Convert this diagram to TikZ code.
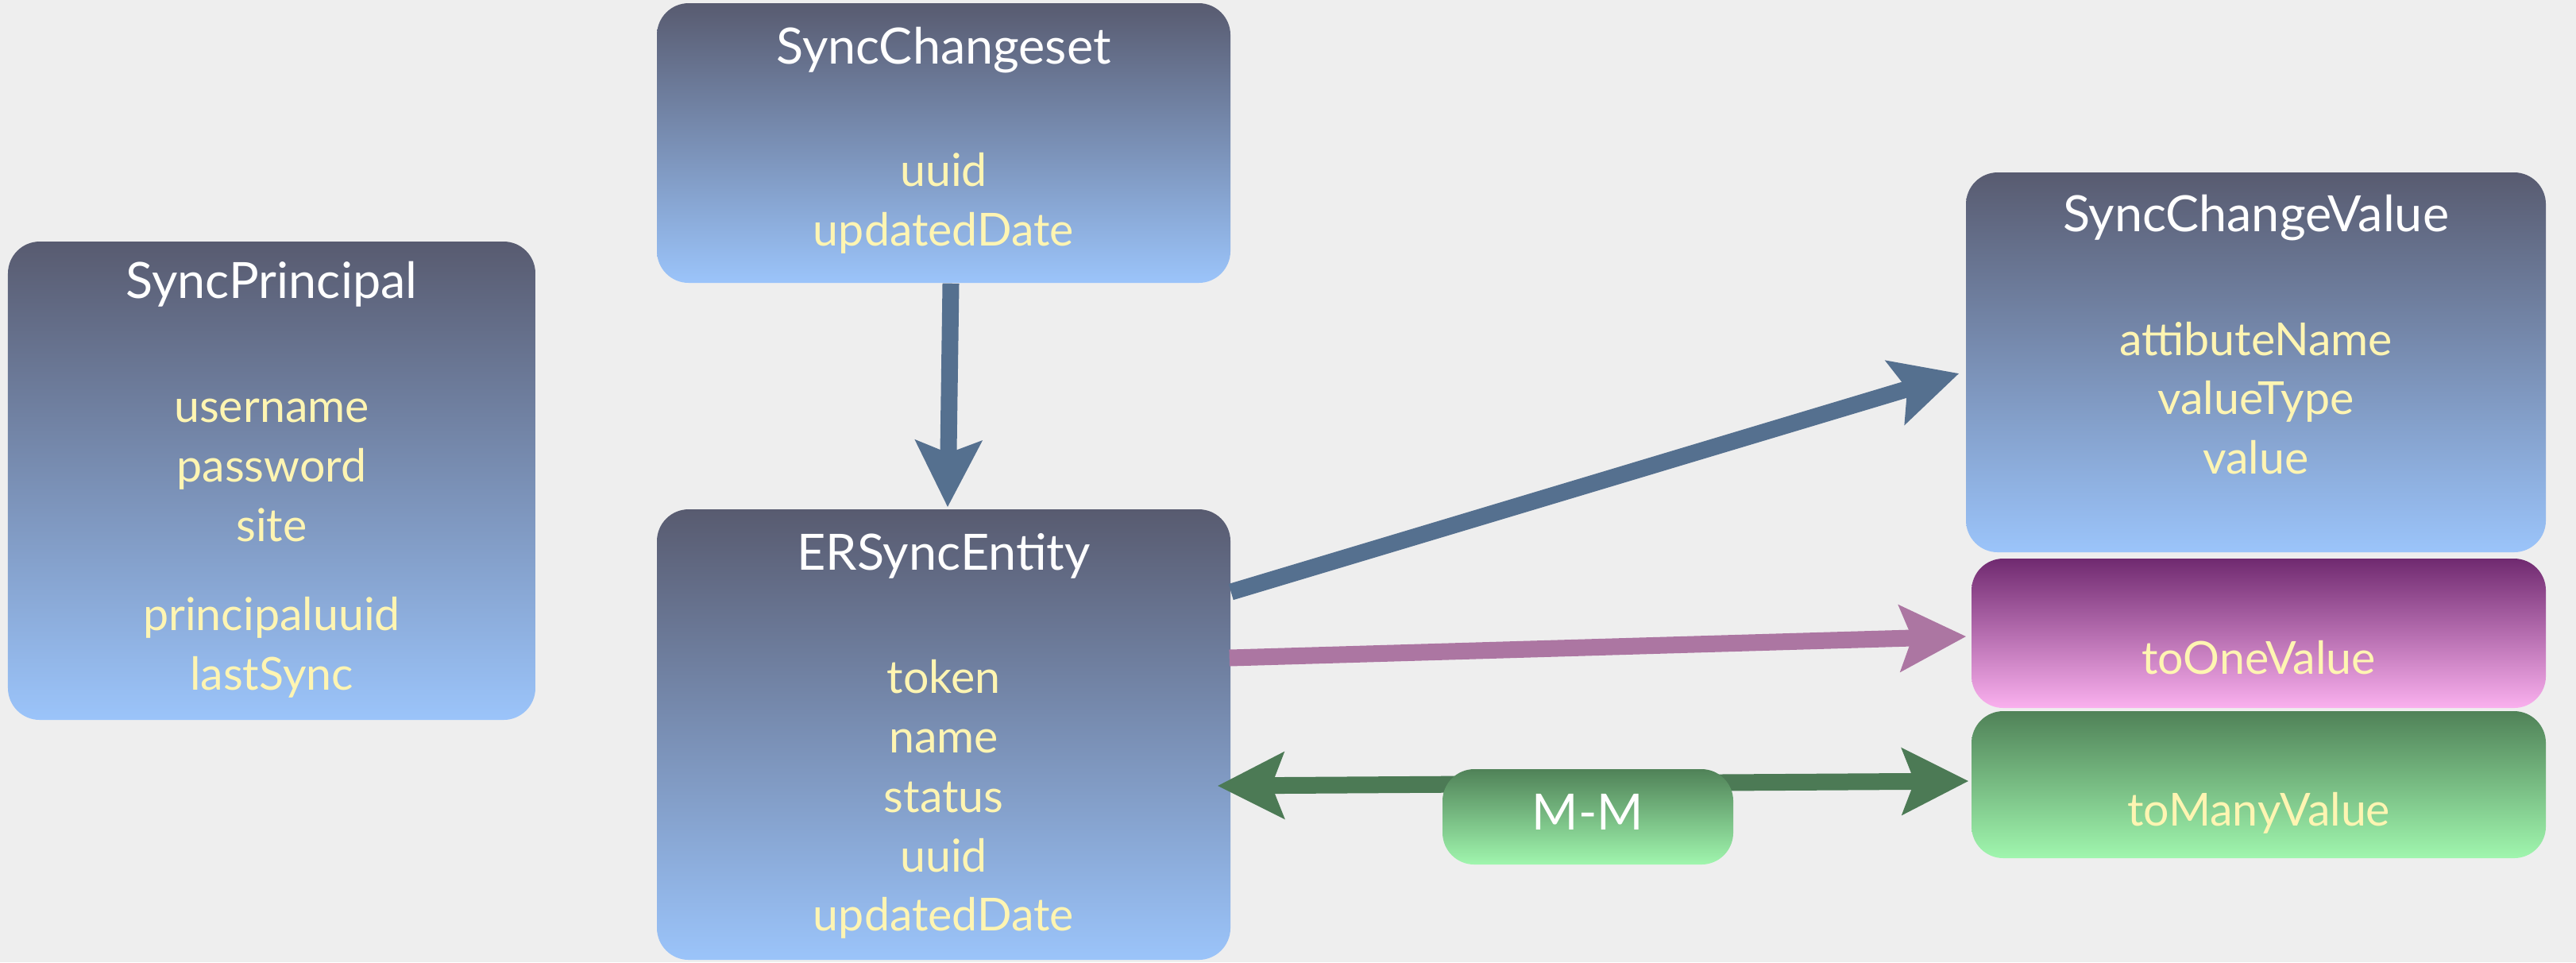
\documentclass[tikz,border=0pt]{standalone}
\usepackage{fontspec}
\setmainfont{Lato}
\usetikzlibrary{arrows.meta}

\definecolor{paper}{RGB}{238,238,238}
\definecolor{entitytop}{RGB}{88,91,112}
\definecolor{entitybottom}{RGB}{155,196,250}
\definecolor{onetop}{RGB}{112,42,112}
\definecolor{onebottom}{RGB}{250,176,238}
\definecolor{manytop}{RGB}{80,130,88}
\definecolor{manybottom}{RGB}{160,246,174}
\definecolor{attrcolor}{RGB}{255,245,178}
\definecolor{bluelink}{RGB}{85,112,143}
\definecolor{pinklink}{RGB}{172,118,162}
\definecolor{greenlink}{RGB}{76,122,85}

\newcommand\headfont{\fontsize{17.9}{21.3}\selectfont}
\newcommand\attrfont{\fontsize{16.3}{21.3}\selectfont}

\begin{document}
\begin{tikzpicture}[x = 1cm, y = 1cm, > = {Stealth[length = 0.83cm, width = 0.82cm, inset = 0.15cm]},
    entity/.style = {rectangle, rounded corners = 0.4cm, inner sep = 0pt, top color = entitytop, bottom color = entitybottom},
    toone/.style = {entity, top color = onetop, bottom color = onebottom},
    tomany/.style = {entity, top color = manytop, bottom color = manybottom},
    headtext/.style = {text = white, font = \headfont, inner sep = 0pt},
    attrtext/.style = {text = attrcolor, font = \attrfont, align = center, inner sep = 0pt},
    link/.style = {line width = 0.21cm, ->}]
    \fill[paper] (0, 0) rectangle (32.43, -12.11);
    \useasboundingbox (0, 0) rectangle (32.43, -12.11);

    % entities
    \node[entity, minimum width = 6.64cm, minimum height = 6.02cm] (princ) at (3.42, -6.05) {};
    \node[headtext] (princname) at ([yshift = -0.54cm]princ.north) {SyncPrincipal};
    \node[attrtext] (princattr) at (3.42, -6.90) {username\\password\\site\\[0.37cm]principaluuid\\lastSync};

    \node[entity, minimum width = 7.22cm, minimum height = 3.52cm] (chg) at (11.88, -1.80) {};
    \node[headtext] (chgname) at ([yshift = -0.60cm]chg.north) {SyncChangeset};
    \node[attrtext] (chgattr) at (11.88, -2.56) {uuid\\updatedDate};

    \node[entity, minimum width = 7.22cm, minimum height = 5.67cm] (ent) at (11.88, -9.245) {};
    \node[headtext] (entname) at ([yshift = -0.60cm]ent.north) {ERSyncEntity};
    \node[attrtext] (entattr) at (11.88, -10.06) {token\\name\\status\\uuid\\updatedDate};

    \node[entity, minimum width = 7.30cm, minimum height = 4.78cm] (val) at (28.40, -4.56) {};
    \node[headtext] (valname) at ([yshift = -0.58cm]val.north) {SyncChangeValue};
    \node[attrtext] (valattr) at (28.40, -5.01) {attibuteName\\valueType\\value};

    \node[toone, minimum width = 7.23cm, minimum height = 1.88cm] (one) at (28.435, -7.97) {};
    \node[attrtext] (onename) at ([yshift = -0.31cm]one.center) {toOneValue};

    \node[tomany, minimum width = 7.23cm, minimum height = 1.85cm] (many) at (28.435, -9.875) {};
    \node[attrtext] (manyname) at ([yshift = -0.36cm]many.center) {toManyValue};

    % relationships
    \draw[link, bluelink] ([xshift = 0.09cm]chg.south) -- ([xshift = 0.05cm, yshift = 0.02cm]ent.north);
    \draw[link, bluelink] ([yshift = 1.795cm]ent.east) -- ([xshift = -0.08cm, yshift = -0.14cm]val.west);
    \draw[link, pinklink] ([xshift = -0.02cm, yshift = 0.965cm]ent.east) -- ([xshift = -0.06cm, yshift = -0.04cm]one.west);
    \draw[link, greenlink, <->] ([xshift = -0.17cm, yshift = -0.645cm]ent.east) -- ([xshift = -0.03cm, yshift = 0.045cm]many.west);

    \node[tomany, minimum width = 3.66cm, minimum height = 1.20cm] (mm) at (19.99, -10.28) {};
    \node[headtext] (mmname) at ([yshift = 0.06cm]mm.center) {M-M};
\end{tikzpicture}
\end{document}
